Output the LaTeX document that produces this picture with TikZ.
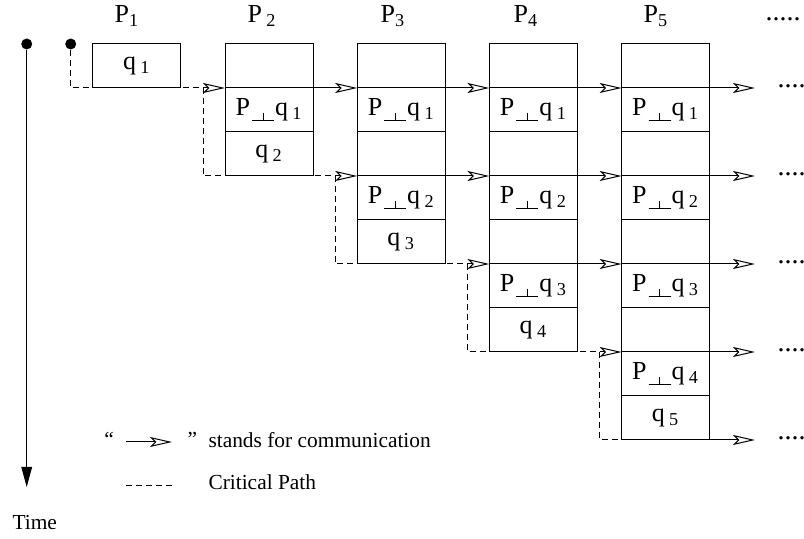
\documentclass[tikz,border=0pt]{standalone}
\usepackage{fontspec}
\setmainfont{Liberation Serif}
\usetikzlibrary{arrows.meta}

% a flat perpendicular sign sitting below the baseline
\newcommand{\perpbar}{\raisebox{-2.6pt}{\makebox[0pt][l]{\rule{11pt}{0.5pt}}\makebox[11pt]{\rule{0.5pt}{3.8pt}}}}
\newcommand{\pq}[1]{P\hspace{1pt}\perpbar\hspace{0.5pt}q\,\textsubscript{#1}}
\newcommand{\qq}[1]{q\,\textsubscript{#1}}

\tikzset{
  cell/.style={draw, anchor=north west, minimum width=44pt, minimum height=22pt,
    inner sep=0pt, outer sep=0pt, font=\fontsize{13}{15}\selectfont},
  proc/.style={font=\fontsize{13}{15}\selectfont},
  note/.style={anchor=base west, inner sep=0pt, font=\fontsize{10.7}{13}\selectfont},
  more/.style={anchor=west, inner sep=0pt, font=\fontsize{14}{16}\selectfont},
  dot/.style={circle, fill, inner sep=0pt, minimum size=5.5pt},
  comm/.style={-{Stealth[open, length=11pt, width=5pt, inset=2.5pt]}},
  critical/.style={comm, dash pattern=on 3pt off 2pt},
}

\begin{document}
\begin{tikzpicture}[x=0.5pt, y=-0.5pt, line width=0.5pt]
\useasboundingbox (0,0) rectangle (804,539);

% processors
\node[proc] (l1) at (127,16) {P\textsubscript{1}};
\node[proc] (l2) at (262,16) {P\,\textsubscript{2}};
\node[proc] (l3) at (393,16) {P\textsubscript{3}};
\node[proc] (l4) at (526,16) {P\textsubscript{4}};
\node[proc] (l5) at (656,16) {P\textsubscript{5}};
\node[more] (m0) at (765,19) {.....};

% time axis and start of the critical path
\node[dot] (d1) at (26.7,44) {};
\node[dot] (d2) at (70.7,44) {};
\coordinate (tend) at (26.7,487);
\draw[-{Triangle[length=10pt, width=5.3pt]}] (d1) -- (tend);
\node[note] (time) at (12,530) {Time};

% P1
\node[cell] (p1a) at (92.8,44) {\qq{1}};

% P2
\node[cell] (p2a) at (225,44) {};
\node[cell] (p2b) at (225,88) {\pq{1}};
\node[cell] (p2c) at (225,132) {\qq{2}};

% P3
\node[cell] (p3a) at (357.2,44) {};
\node[cell] (p3b) at (357.2,88) {\pq{1}};
\node[cell] (p3c) at (357.2,132) {};
\node[cell] (p3d) at (357.2,176) {\pq{2}};
\node[cell] (p3e) at (357.2,220) {\qq{3}};

% P4
\node[cell] (p4a) at (489.4,44) {};
\node[cell] (p4b) at (489.4,88) {\pq{1}};
\node[cell] (p4c) at (489.4,132) {};
\node[cell] (p4d) at (489.4,176) {\pq{2}};
\node[cell] (p4e) at (489.4,220) {};
\node[cell] (p4f) at (489.4,264) {\pq{3}};
\node[cell] (p4g) at (489.4,308) {\qq{4}};

% P5
\node[cell] (p5a) at (621.6,44) {};
\node[cell] (p5b) at (621.6,88) {\pq{1}};
\node[cell] (p5c) at (621.6,132) {};
\node[cell] (p5d) at (621.6,176) {\pq{2}};
\node[cell] (p5e) at (621.6,220) {};
\node[cell] (p5f) at (621.6,264) {\pq{3}};
\node[cell] (p5g) at (621.6,308) {};
\node[cell] (p5h) at (621.6,352) {\pq{4}};
\node[cell] (p5i) at (621.6,396) {\qq{5}};

% open ends on the right
\coordinate (o1) at (755,88);
\coordinate (o2) at (755,176);
\coordinate (o3) at (755,264);
\coordinate (o4) at (755,352);
\coordinate (o5) at (755,440);
\node[more] (m1) at (777,86) {....};
\node[more] (m2) at (777,174) {....};
\node[more] (m3) at (777,262) {....};
\node[more] (m4) at (777,350) {....};
\node[more] (m5) at (777,438) {....};

% communication
\draw[comm] (p2b.north west) -- (p3b.north west);
\draw[comm] (p3b.north west) -- (p4b.north west);
\draw[comm] (p4b.north west) -- (p5b.north west);
\draw[comm] (p5b.north west) -- (o1);
\draw[comm] (p3d.north west) -- (p4d.north west);
\draw[comm] (p4d.north west) -- (p5d.north west);
\draw[comm] (p5d.north west) -- (o2);
\draw[comm] (p4f.north west) -- (p5f.north west);
\draw[comm] (p5f.north west) -- (o3);
\draw[comm] (p5h.north west) -- (o4);
\draw[comm] (p5i.south west) -- (o5);

% critical path
\coordinate (j2) at (203,88);
\coordinate (j3) at (335.4,176);
\coordinate (j4) at (467.6,264);
\coordinate (j5) at (599.8,352);
\draw[critical] (d2) |- (p2b.north west);
\draw[critical] (j2) |- (p3d.north west);
\draw[critical] (j3) |- (p4f.north west);
\draw[critical] (j4) |- (p5h.north west);
\draw[dash pattern=on 3pt off 2pt] (j5) |- (p5i.south west);

% legend
\node[note] (lq) at (104,447) {``};
\coordinate (ca) at (126,442);
\coordinate (cb) at (172,442);
\draw[comm] (ca) -- (cb);
\node[note] (rq) at (187,447) {''};
\node[note] (lc) at (208,448) {stands for communication};
\coordinate (da) at (126,486);
\coordinate (db) at (175,486);
\draw[dash pattern=on 3pt off 2pt] (da) -- (db);
\node[note] (lp) at (208,490) {Critical Path};
\end{tikzpicture}
\end{document}
